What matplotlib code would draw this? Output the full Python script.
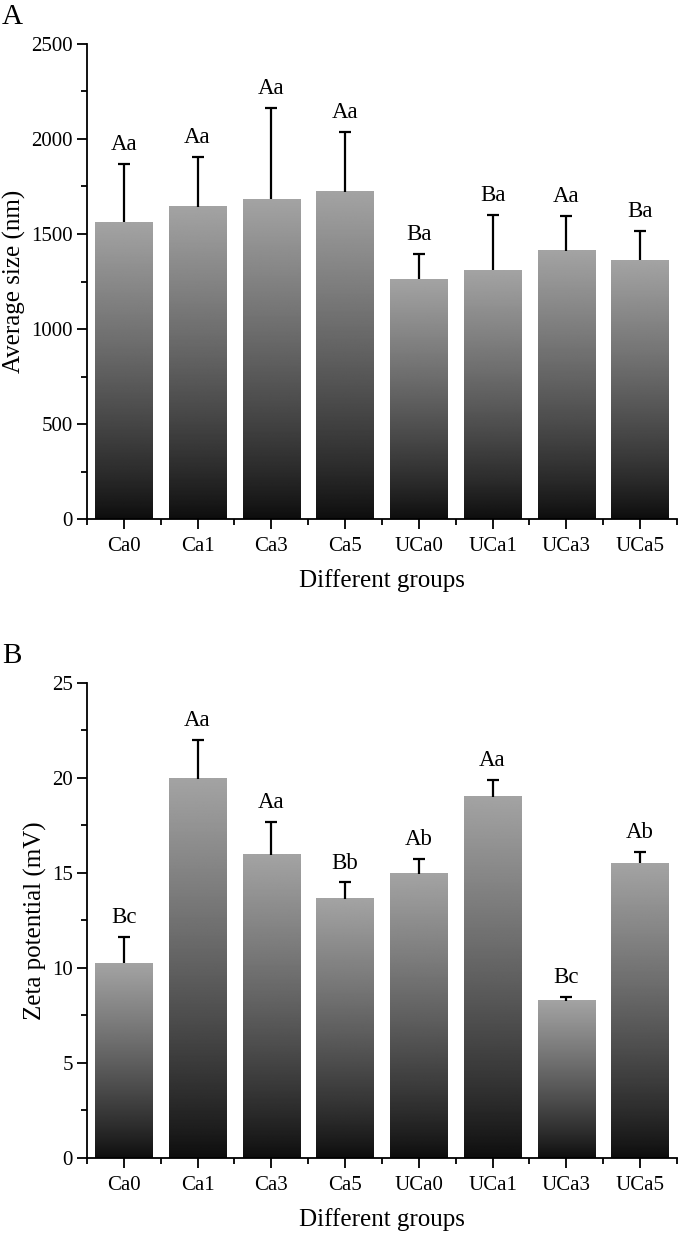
import numpy as np
import matplotlib
matplotlib.use("Agg")
import matplotlib.pyplot as plt
from matplotlib.ticker import MultipleLocator, FixedLocator

plt.rcParams['font.family'] = ['Liberation Serif', 'DejaVu Serif']

groups = ['Ca0', 'Ca1', 'Ca3', 'Ca5', 'UCa0', 'UCa1', 'UCa3', 'UCa5']

size_mean = [1563, 1642, 1684, 1721, 1263, 1310, 1411, 1363]
size_err = [305, 263, 480, 316, 132, 290, 184, 153]
size_letters = ['Aa', 'Aa', 'Aa', 'Aa', 'Ba', 'Ba', 'Aa', 'Ba']

zeta_mean = [10.26, 19.95, 15.95, 13.65, 14.95, 19.0, 8.28, 15.5]
zeta_err = [1.38, 2.05, 1.75, 0.85, 0.8, 0.9, 0.2, 0.6]
zeta_letters = ['Bc', 'Aa', 'Aa', 'Bb', 'Ab', 'Aa', 'Bc', 'Ab']

BAR_W = 0.78
TOP_GRAY = 0.64
BOTTOM_GRAY = 0.05


def gradient_bars(ax, means, errs, letters, ymax, major, minor, ylabel):
    x = np.arange(len(means))
    # invisible bars so the axes know about them
    ax.bar(x, means, width=BAR_W, color='none', edgecolor='none')
    t = np.linspace(0, 1, 256).reshape(-1, 1)
    grad = BOTTOM_GRAY + (TOP_GRAY - BOTTOM_GRAY) * t ** 0.85
    for xi, h in zip(x, means):
        ax.imshow(grad, cmap='gray', vmin=0, vmax=1, origin='lower',
                  extent=[xi - BAR_W / 2, xi + BAR_W / 2, 0, h],
                  aspect='auto', interpolation='bilinear', zorder=2)
    means = np.array(means)
    errs = np.array(errs)
    ax.errorbar(x, means, yerr=[np.zeros_like(errs), errs], fmt='none',
                ecolor='black', elinewidth=1.6, capsize=0, zorder=3)
    ax.plot(x, means + errs, ls='none', marker='_', markersize=9,
            mew=1.6, color='black', zorder=3)
    for xi, top, lab in zip(x, means + errs, letters):
        ax.annotate(lab, (xi, top), xytext=(0, 10), textcoords='offset points',
                    ha='center', va='baseline', fontsize=16.5)

    ax.set_xlim(-0.5, len(means) - 0.5)
    ax.set_ylim(0, ymax)
    ax.yaxis.set_major_locator(MultipleLocator(major))
    ax.yaxis.set_minor_locator(MultipleLocator(minor))
    ax.set_xticks(x)
    ax.set_xticklabels(groups)
    ax.xaxis.set_minor_locator(FixedLocator(np.arange(-0.5, len(means), 1.0)))
    for s in ['top', 'right']:
        ax.spines[s].set_visible(False)
    for s in ['left', 'bottom']:
        ax.spines[s].set_linewidth(1.3)
    ax.tick_params(which='major', direction='out', length=7, width=1.3,
                   labelsize=15, pad=3)
    ax.tick_params(which='minor', direction='out', length=4, width=1.3)
    ax.tick_params(axis='x', which='major', pad=6)
    ax.set_xlabel('Different groups', fontsize=18, labelpad=9)
    ax.set_ylabel(ylabel, fontsize=18, labelpad=4)


fig = plt.figure(figsize=(6.79, 12.39), dpi=100)
ax1 = fig.add_axes([0.128, 0.5811, 0.869, 0.3834])
ax2 = fig.add_axes([0.128, 0.0654, 0.869, 0.3834])

gradient_bars(ax1, size_mean, size_err, size_letters, 2500, 500, 250,
              'Average size (nm)')
gradient_bars(ax2, zeta_mean, zeta_err, zeta_letters, 25, 5, 2.5,
              'Zeta potential (mV)')

fig.text(0.003, 0.997, 'A', fontsize=21, va='top', ha='left')
fig.text(0.003, 0.481, 'B', fontsize=21, va='top', ha='left')

fig.savefig('out.png', dpi=100)
